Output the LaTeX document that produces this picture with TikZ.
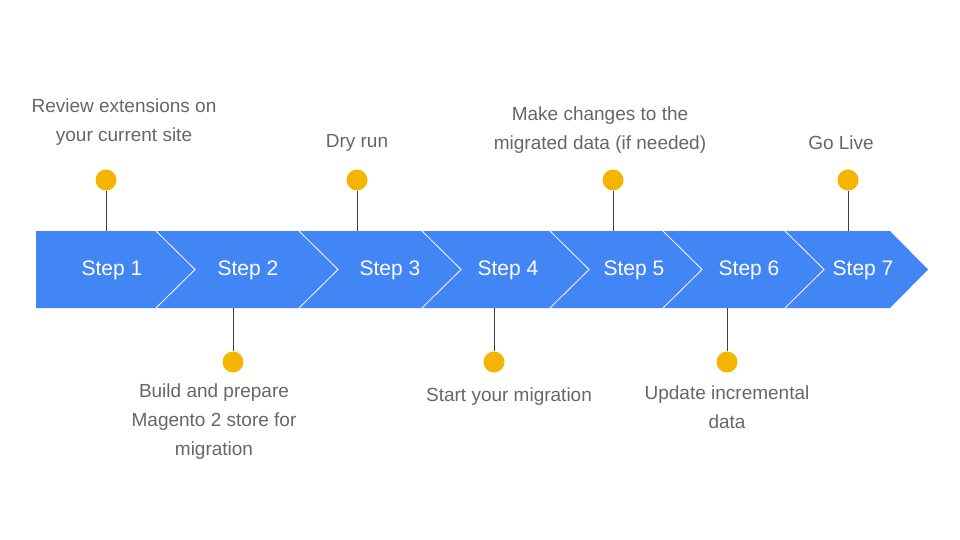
\documentclass[tikz,border=0pt]{standalone}
\usepackage{fontspec}
\setmainfont{Liberation Sans}
\begin{document}
\begin{tikzpicture}[x=1pt,y=-1pt,
  lbl/.style={text=black!60,font=\fontsize{19}{29}\selectfont,align=center,inner sep=0},
  stp/.style={text=white,font=\fontsize{21}{25}\selectfont,inner sep=0},
  dot/.style={circle,fill=yel,minimum size=21,inner sep=0},
  stem/.style={draw=black!75,line width=1}]
\definecolor{blu}{HTML}{4285F4}\definecolor{yel}{HTML}{F4B400}
\useasboundingbox (0,0) rectangle (960,540);
\fill[blu] (36,231) -- (890,231) -- (928,269.5) -- (890,308) -- (36,308) -- cycle;
\foreach \x in {156,299,422,550,663,785}
  \draw[white,line width=0.8] (\x,231) -- (\x+39,269.5) -- (\x,308);
\foreach \n/\x in {1/112,2/248,3/390,4/508,5/634,6/749,7/863}
  \node[stp] (s\n) at (\x,270) {Step \n};
\foreach \n/\x in {a/106,b/357,c/613,d/848}{
  \node[dot] (d\n) at (\x,180) {};
  \coordinate (t\n) at (\x,231);
  \draw[stem] (d\n) -- (t\n);}
\foreach \n/\x in {e/233,f/494,g/727}{
  \node[dot] (d\n) at (\x,362) {};
  \coordinate (t\n) at (\x,308);
  \draw[stem] (t\n) -- (d\n);}
\node[lbl] (la) at (124,122) {Review extensions on\\your current site};
\node[lbl] (lb) at (357,143) {Dry run};
\node[lbl] (lc) at (600,130) {Make changes to the\\migrated data (if needed)};
\node[lbl] (ld) at (841,143) {Go Live};
\node[lbl] (le) at (214,422) {Build and prepare\\Magento 2 store for\\migration};
\node[lbl] (lf) at (509,397) {Start your migration};
\node[lbl] (lg) at (727,407) {Update incremental\\data};
\end{tikzpicture}
\end{document}
